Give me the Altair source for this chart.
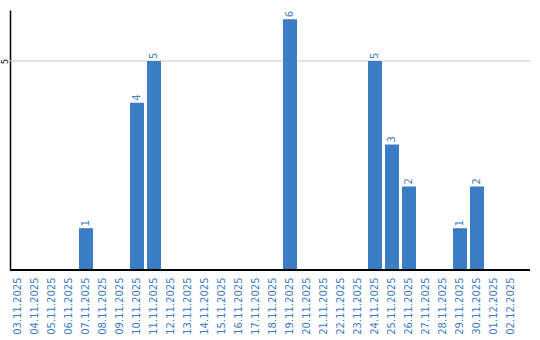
import altair as alt
import pandas as pd

dates = ["03.11.2025", "04.11.2025", "05.11.2025", "06.11.2025", "07.11.2025",
         "08.11.2025", "09.11.2025", "10.11.2025", "11.11.2025", "12.11.2025",
         "13.11.2025", "14.11.2025", "15.11.2025", "16.11.2025", "17.11.2025",
         "18.11.2025", "19.11.2025", "20.11.2025", "21.11.2025", "22.11.2025",
         "23.11.2025", "24.11.2025", "25.11.2025", "26.11.2025", "27.11.2025",
         "28.11.2025", "29.11.2025", "30.11.2025", "01.12.2025", "02.12.2025"]
values = [0, 0, 0, 0, 1,
          0, 0, 4, 5, 0,
          0, 0, 0, 0, 0,
          0, 6, 0, 0, 0,
          0, 5, 3, 2, 0,
          0, 1, 2, 0, 0]
y_ticks = [5]

df = pd.DataFrame({"date": dates, "value": values})
grid_df = pd.DataFrame({"tick": y_ticks})

BLUE = "#3b7dc4"
FONT = "DejaVu Sans"
W, H = 520, 260

yscale = alt.Scale(domain=[0, 6.22], nice=False)

xenc = alt.X("date:N", sort=dates, title=None,
             scale=alt.Scale(range=[1, 508], paddingInner=3 / 17, paddingOuter=0),
             axis=alt.Axis(labelAngle=270, labelColor=BLUE, labelFont=FONT,
                           labelFontSize=10, ticks=False, domain=False,
                           labelPadding=7, labelAlign="right", labelBaseline="middle"))
yenc = alt.Y("value:Q", title=None, scale=yscale,
             axis=alt.Axis(values=y_ticks, ticks=False, grid=False, domainColor="black",
                           domainWidth=1.5, labelColor="black",
                           labelFont=FONT, labelFontSize=8, labelAngle=270,
                           labelAlign="center", labelBaseline="alphabetic", labelPadding=3))

grid = alt.Chart(grid_df).mark_rule(color="#c8c8c8", strokeWidth=1).encode(
    y=alt.Y("tick:Q", scale=yscale), x=alt.value(0), x2=alt.value(W))

bars = alt.Chart(df).mark_bar(color=BLUE).encode(x=xenc, y=yenc)

labels = alt.Chart(df).transform_filter("datum.value > 0").mark_text(
    angle=270, align="left", baseline="middle", dx=2, color=BLUE,
    font=FONT, fontSize=10
).encode(x=alt.X("date:N", sort=dates), y=alt.Y("value:Q"), text=alt.Text("value:Q"))

xline = alt.Chart(df).mark_rule(color="black", strokeWidth=1.5).encode(
    y=alt.value(H), x=alt.value(0), x2=alt.value(W))

chart = alt.layer(grid, bars, labels, xline).properties(
    width=W, height=H,
    autosize=alt.AutoSizeParams(type="none"),
    padding={"left": 10, "top": 10, "right": 10, "bottom": 70},
).configure_view(strokeWidth=0)

chart.save("out.html", embed_options={"renderer": "svg", "actions": False})
